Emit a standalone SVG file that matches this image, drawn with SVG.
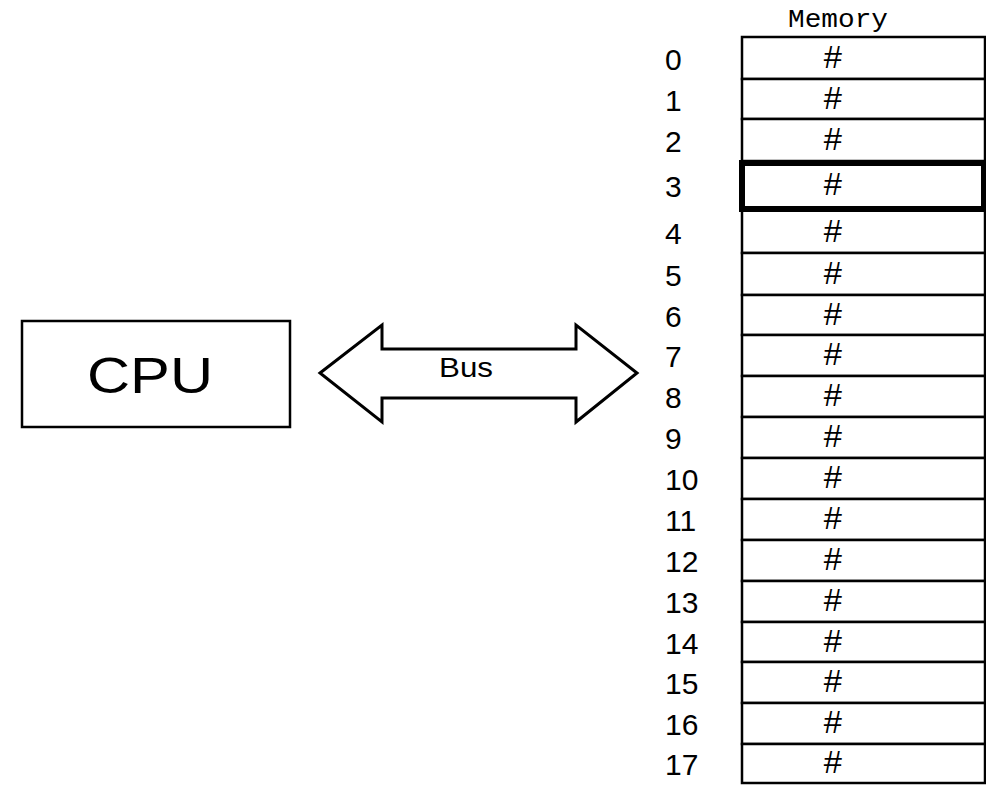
<svg xmlns="http://www.w3.org/2000/svg" width="986" height="785" viewBox="0 0 986 785">
  <style>
    .box { fill: #fff; stroke: #000; stroke-width: 2.5; }
    .cell { fill: #fff; stroke: #000; stroke-width: 2.5; }
    .sel { fill: #fff; stroke: #000; stroke-width: 6; }
    .addr { font-family: "Liberation Sans", Arial, sans-serif; font-size: 30px; fill: #000; }
    .val { font-family: "Liberation Mono", "Courier New", monospace; font-size: 33px; fill: #000; text-anchor: middle; }
    .title { font-family: "Liberation Mono", "Courier New", monospace; font-size: 26px; fill: #000; }
    .sans { font-family: "Liberation Sans", Arial, sans-serif; fill: #000; }
  </style>
  <rect width="986" height="785" fill="#fff"/>

  <!-- processor -->
  <g id="cpu">
    <rect class="box" x="22" y="321" width="268" height="106"/>
    <text class="sans" x="87" y="393" font-size="50" textLength="126" lengthAdjust="spacingAndGlyphs">CPU</text>
  </g>

  <!-- two-way bus between processor and memory -->
  <g id="connectors">
    <g id="bus">
      <path d="M320,373 L382,325 L382,349 L576,349 L576,325 L637,373 L576,422 L576,398 L382,398 L382,422 Z" fill="#fff" stroke="#000" stroke-width="3" stroke-linejoin="miter"/>
      <text class="sans" x="439" y="377" font-size="27" textLength="54" lengthAdjust="spacingAndGlyphs">Bus</text>
    </g>
  </g>

  <!-- memory column -->
  <g id="memory">
    <text class="title" x="788" y="27" textLength="100" lengthAdjust="spacingAndGlyphs">Memory</text>
    <g id="cell-0"><rect class="cell" x="742" y="37" width="243" height="42"/><text class="addr" x="665" y="70">0</text><text class="val" x="833" y="68">#</text></g>
    <g id="cell-1"><rect class="cell" x="742" y="79" width="243" height="40"/><text class="addr" x="665" y="111">1</text><text class="val" x="833" y="109">#</text></g>
    <g id="cell-2"><rect class="cell" x="742" y="119" width="243" height="42"/><text class="addr" x="665" y="152">2</text><text class="val" x="833" y="150">#</text></g>
    <g id="cell-4"><rect class="cell" x="742" y="210" width="243" height="43"/><text class="addr" x="665" y="244">4</text><text class="val" x="833" y="242">#</text></g>
    <g id="cell-5"><rect class="cell" x="742" y="253" width="243" height="42"/><text class="addr" x="665" y="286">5</text><text class="val" x="833" y="284">#</text></g>
    <g id="cell-6"><rect class="cell" x="742" y="295" width="243" height="40"/><text class="addr" x="665" y="327">6</text><text class="val" x="833" y="325">#</text></g>
    <g id="cell-7"><rect class="cell" x="742" y="335" width="243" height="41"/><text class="addr" x="665" y="367">7</text><text class="val" x="833" y="365">#</text></g>
    <g id="cell-8"><rect class="cell" x="742" y="376" width="243" height="41"/><text class="addr" x="665" y="408">8</text><text class="val" x="833" y="406">#</text></g>
    <g id="cell-9"><rect class="cell" x="742" y="417" width="243" height="41"/><text class="addr" x="665" y="449">9</text><text class="val" x="833" y="447">#</text></g>
    <g id="cell-10"><rect class="cell" x="742" y="458" width="243" height="41"/><text class="addr" x="665" y="490">10</text><text class="val" x="833" y="488">#</text></g>
    <g id="cell-11"><rect class="cell" x="742" y="499" width="243" height="41"/><text class="addr" x="665" y="531">11</text><text class="val" x="833" y="529">#</text></g>
    <g id="cell-12"><rect class="cell" x="742" y="540" width="243" height="41"/><text class="addr" x="665" y="572">12</text><text class="val" x="833" y="570">#</text></g>
    <g id="cell-13"><rect class="cell" x="742" y="581" width="243" height="41"/><text class="addr" x="665" y="613">13</text><text class="val" x="833" y="611">#</text></g>
    <g id="cell-14"><rect class="cell" x="742" y="622" width="243" height="40"/><text class="addr" x="665" y="654">14</text><text class="val" x="833" y="652">#</text></g>
    <g id="cell-15"><rect class="cell" x="742" y="662" width="243" height="41"/><text class="addr" x="665" y="694">15</text><text class="val" x="833" y="692">#</text></g>
    <g id="cell-16"><rect class="cell" x="742" y="703" width="243" height="41"/><text class="addr" x="665" y="735">16</text><text class="val" x="833" y="733">#</text></g>
    <g id="cell-17"><rect class="cell" x="742" y="744" width="243" height="39"/><text class="addr" x="665" y="775">17</text><text class="val" x="833" y="773">#</text></g>
    <!-- highlighted cell drawn last so its heavy border sits on top -->
    <g id="cell-3"><rect class="sel" x="742" y="163" width="242" height="46"/><text class="addr" x="665" y="197">3</text><text class="val" x="833" y="195">#</text></g>
  </g>
</svg>
